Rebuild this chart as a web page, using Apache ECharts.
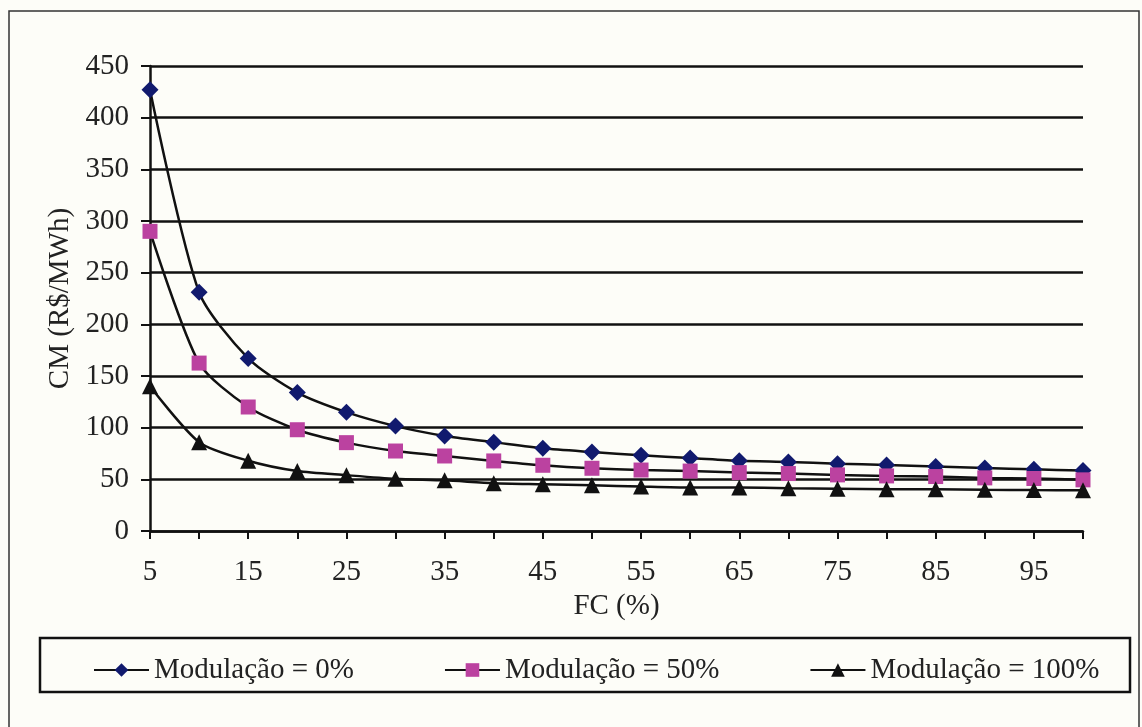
<!DOCTYPE html>
<html>
<head>
<meta charset="utf-8">
<script src="https://cdn.jsdelivr.net/npm/echarts@6/dist/echarts.min.js"></script>
<style>
html,body{margin:0;padding:0;background:#fdfdf8;}
#chart{width:1142px;height:727px;}
</style>
</head>
<body>
<div id="chart"></div>
<script>
const categories = ['5','10','15','20','25','30','35','40','45','50','55','60','65','70','75','80','85','90','95','100'];
const seriesNames = ['Modulação = 0%', 'Modulação = 50%', 'Modulação = 100%'];
const mod0 = [427, 231, 167, 134, 115, 101.5, 92, 86, 80, 76.4, 73.2, 70.7, 68, 66.8, 65.2, 63.9, 62.3, 61, 59.7, 58.5];
const mod50 = [290, 162.5, 120, 98, 85.5, 77.4, 72.6, 67.8, 63.6, 60.7, 59, 58, 56.5, 55.6, 54.3, 53.3, 52.7, 51.4, 50.8, 49.5];
const mod100 = [140, 86, 68, 58, 54, 50.5, 49, 46.3, 45.3, 44.3, 43, 42, 42, 41.4, 41, 40.5, 40.3, 39.8, 39.6, 39.5];
const yTicks = {min: 0, max: 450, interval: 50};

const FONT = '"Liberation Serif", "Times New Roman", serif';
const chart = echarts.init(document.getElementById('chart'));

function mkSeries(name, data, symbol, size, color) {
  return {
    name: name, type: 'line', data: data,
    smooth: 0.25,
    symbol: symbol, symbolSize: size, showAllSymbol: true,
    lineStyle: {color: '#111', width: 2.5},
    itemStyle: {color: color, borderWidth: 0},
    emphasis: {disabled: true},
    z: 3
  };
}

chart.setOption({
  backgroundColor: '#fdfdf8',
  animation: false,
  textStyle: {fontFamily: FONT, color: '#222'},
  grid: {left: 150, right: 59, top: 66, bottom: 196, containLabel: false},
  legend: {
    data: seriesNames,
    left: 88, top: 650,
    itemWidth: 55, itemHeight: 17, itemGap: 90,
    selectedMode: false,
    textStyle: {fontFamily: FONT, fontSize: 29, color: '#222', lineHeight: 30}
  },
  xAxis: {
    type: 'category', data: categories, boundaryGap: false,
    name: 'FC (%)', nameLocation: 'middle', nameGap: 57,
    nameTextStyle: {fontFamily: FONT, fontSize: 29, color: '#222'},
    axisLine: {lineStyle: {color: '#111', width: 2.5}},
    axisTick: {show: true, interval: 0, length: 8, lineStyle: {color: '#111', width: 2}},
    axisLabel: {interval: 1, margin: 27, fontFamily: FONT, fontSize: 29, color: '#222'},
    splitLine: {show: false}
  },
  yAxis: {
    type: 'value', min: yTicks.min, max: yTicks.max, interval: yTicks.interval,
    name: 'CM (R$/MWh)', nameLocation: 'middle', nameGap: 73,
    nameTextStyle: {fontFamily: FONT, fontSize: 29, color: '#222'},
    axisLine: {show: true, lineStyle: {color: '#111', width: 2.5}},
    axisTick: {show: true, length: 9, lineStyle: {color: '#111', width: 2}},
    axisLabel: {margin: 21, fontFamily: FONT, fontSize: 29, color: '#222'},
    splitLine: {show: true, lineStyle: {color: '#111', width: 2.5}}
  },
  graphic: [
    {type: 'rect', shape: {x: 9, y: 11, width: 1130, height: 740},
     style: {fill: null, stroke: '#333', lineWidth: 1.5}, silent: true, z: -1},
    {type: 'rect', shape: {x: 40, y: 638, width: 1090, height: 54},
     style: {fill: null, stroke: '#111', lineWidth: 2.5}, silent: true, z: -1}
  ],
  series: [
    mkSeries(seriesNames[0], mod0, 'diamond', 17, '#111a6e'),
    mkSeries(seriesNames[1], mod50, 'rect', 15, '#bb42a0'),
    mkSeries(seriesNames[2], mod100, 'triangle', 16, '#111111')
  ]
});
</script>
</body>
</html>
